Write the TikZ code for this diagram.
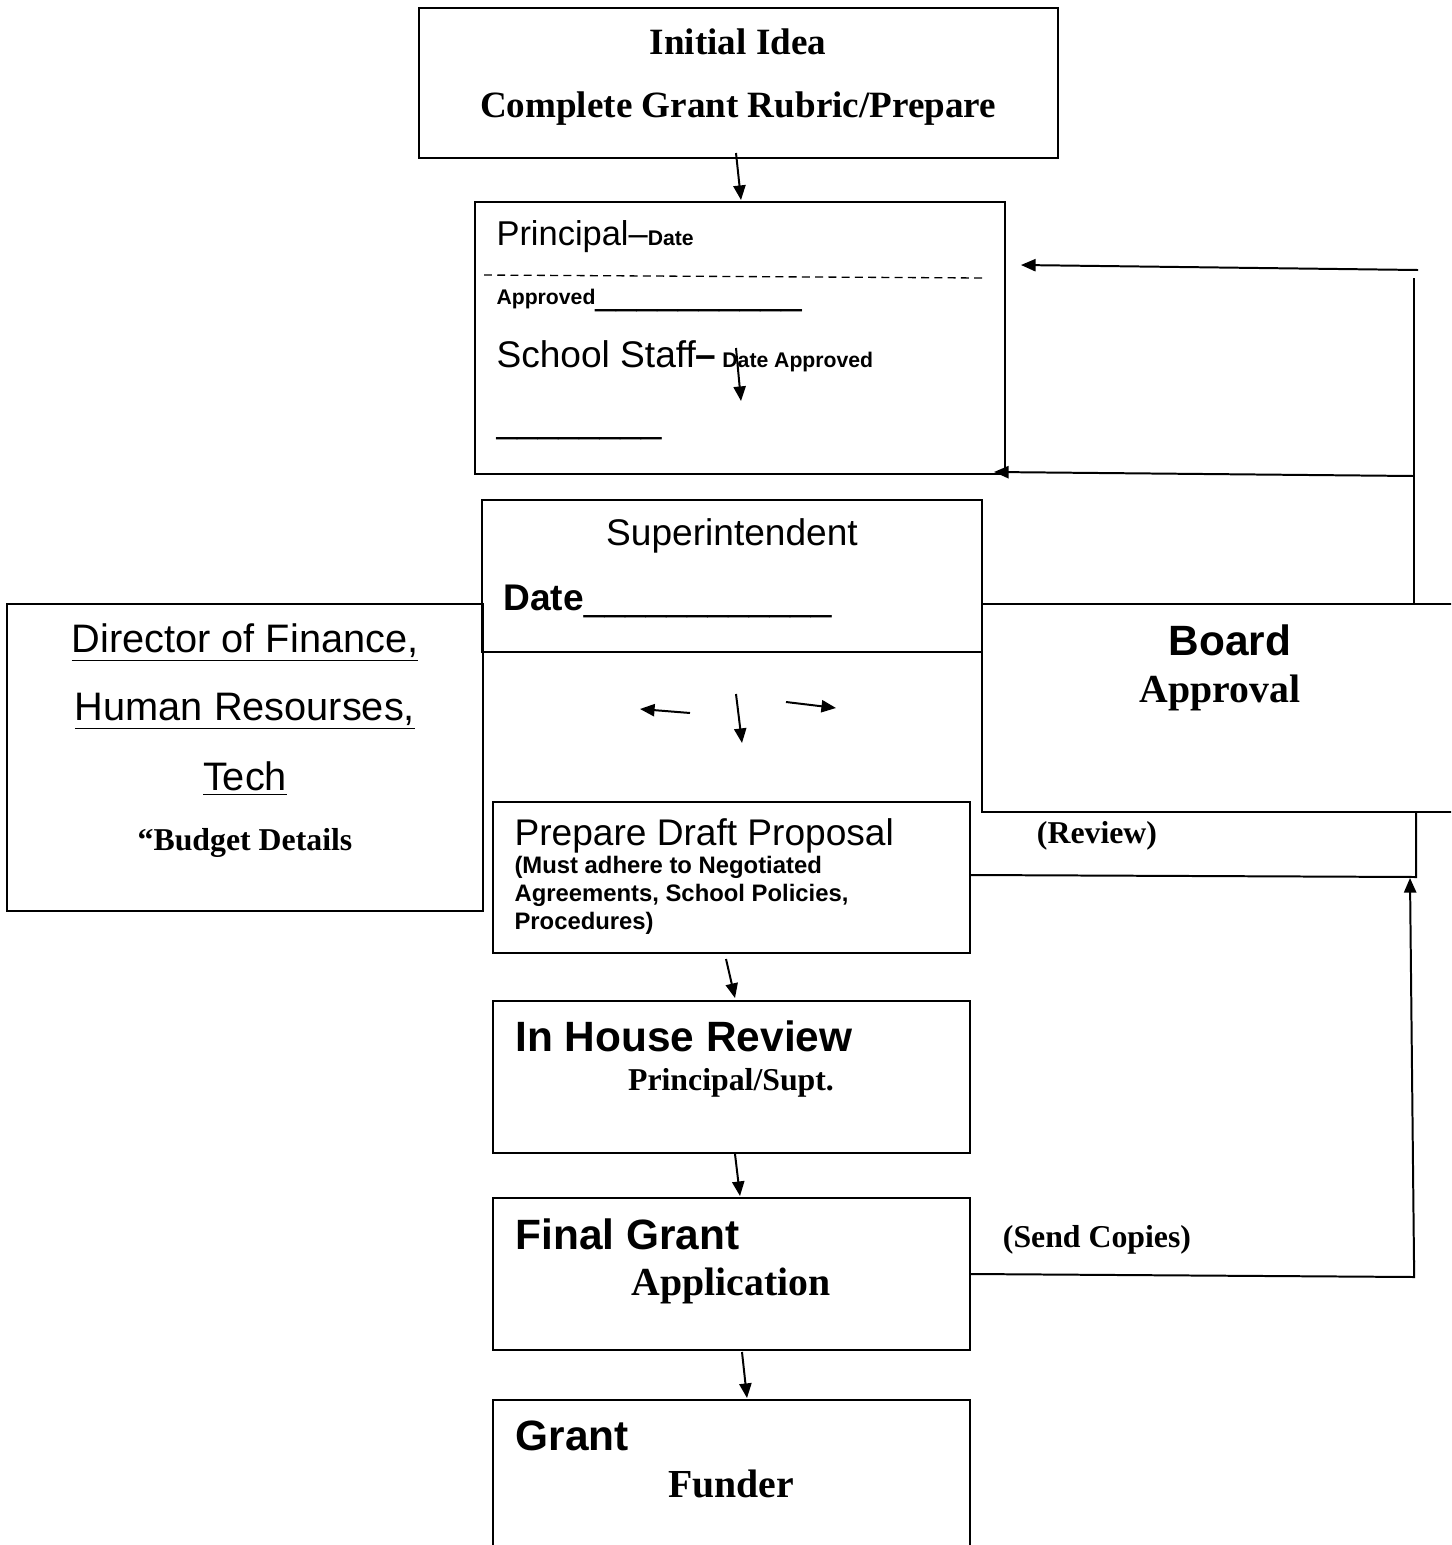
\documentclass[tikz,border=0pt]{standalone}
\usepackage{fontspec}
\setmainfont{Liberation Serif}
\setsansfont{Liberation Sans}
\usetikzlibrary{arrows.meta}
\newcommand\pxu{0.3774pt}
\begin{document}
\begin{tikzpicture}[x=\pxu, y=-\pxu,
		box/.style={draw, line width=0.75pt, inner sep=0pt},
		wire/.style={line width=0.75pt},
		arr/.style={wire, -{Triangle[length=5.5pt,width=4.6pt]}},
		txt/.style={inner sep=0pt, anchor=base},
		txtw/.style={inner sep=0pt, anchor=base west},
		sans/.style={font=\fontsize{#1}{#1}\selectfont\sffamily},
		sansb/.style={font=\fontsize{#1}{#1}\selectfont\sffamily\bfseries},
		serifb/.style={font=\fontsize{#1}{#1}\selectfont\rmfamily\bfseries}]
		\clip (0,0) rectangle (1451,1545);
		\node[box, minimum width=639*\pxu, minimum height=150*\pxu] (initial) at (738.5,83) {};
		\node[box, minimum width=530*\pxu, minimum height=272*\pxu] (principal) at (740,338) {};
		\node[box, minimum width=500*\pxu, minimum height=152*\pxu] (super) at (732,576) {};
		\node[box, minimum width=476*\pxu, minimum height=307*\pxu] (director) at (245,757.5) {};
		\node[box, minimum width=488*\pxu, minimum height=208*\pxu] (board) at (1226,708) {};
		\node[box, minimum width=477*\pxu, minimum height=151*\pxu] (draft) at (731.5,877.5) {};
		\node[box, minimum width=477*\pxu, minimum height=152*\pxu] (review) at (731.5,1077) {};
		\node[box, minimum width=477*\pxu, minimum height=152*\pxu] (final) at (731.5,1274) {};
		\node[box, minimum width=477*\pxu, minimum height=160*\pxu] (funder) at (731.5,1480) {};

		\node[txt, serifb=14] (idea) at (738,54) {Initial Idea};
		\node[txt, serifb=14] (rubric) at (738,117) {Complete Grant Rubric/Prepare};

		\node[txtw, sans=13] (prin) at (496,245) {Principal--{\fontsize{8}{8}\selectfont\bfseries Date}};
		\draw[line width=0.5pt, dash pattern=on 3pt off 2pt] (484,275) -- (982,278);
		\node[txtw, sansb=8] (appr) at (496,304) {Approved{\fontsize{14}{14}\selectfont\mdseries\_\_\_\_\_\_\_\_\_\_}};
		\node[txtw, sans=14] (staff) at (496,367) {School Staff{\bfseries--}{\fontsize{8}{8}\selectfont\bfseries\ Date Approved}};
		\node[txtw, sans=14] (blank) at (496,432) {\_\_\_\_\_\_\_\_};

		\node[txt, sans=14] (suptitle) at (732,545) {Superintendent};
		\node[txtw, sansb=14] (supdate) at (503,610) {Date{\mdseries\_\_\_\_\_\_\_\_\_\_\_\_}};

		\node[txt, sans=15] (dirA) at (245,652) {\underline{Director of Finance,}};
		\node[txt, sans=15] (dirB) at (245,720) {\underline{Human Resourses,}};
		\node[txt, sans=15] (dirC) at (245,790) {\underline{Tech}};
		\node[txt, serifb=12] (budget) at (245,850) {“Budget Details};

		\node[txt, sansb=16] (boardA) at (1230,655) {Board};
		\node[txt, serifb=15] (boardB) at (1220,702) {Approval};

		\node[txtw, sans=14] (draftA) at (514,845) {Prepare Draft Proposal};
		\node[txtw, sansb=9] (draftB) at (514,873) {(Must adhere to Negotiated};
		\node[txtw, sansb=9] (draftC) at (514,901) {Agreements, School Policies,};
		\node[txtw, sansb=9] (draftD) at (514,929) {Procedures)};

		\node[txtw, sansb=16] (revA) at (515,1051) {In House Review};
		\node[txt, serifb=12] (revB) at (731,1090) {Principal/Supt.};

		\node[txtw, sansb=16] (finA) at (515,1249) {Final Grant};
		\node[txt, serifb=15] (finB) at (731,1295) {Application};

		\node[txtw, sansb=16] (funA) at (515,1450) {Grant};
		\node[txt, serifb=15] (funB) at (731,1497) {Funder};

		\node[txt, serifb=12] (revlabel) at (1097,843) {(Review)};
		\node[txt, serifb=12] (sendlabel) at (1097,1247) {(Send Copies)};

		\draw[arr] ([shift={(-2.5,-6)}]initial.south) -- ([shift={(1,-1)}]principal.north);
		\draw[arr] ([shift={(-4,10)}]principal.center) -- ([shift={(1,63)}]principal.center);
		\draw[arr] ([shift={(-42,60)}]super.south) -- ([shift={(-92,56)}]super.south);
		\draw[arr] ([shift={(4,41)}]super.south) -- ([shift={(10,90)}]super.south);
		\draw[arr] ([shift={(54,49)}]super.south) -- ([shift={(104,55)}]super.south);
		\draw[arr] ([shift={(-5.5,5)}]draft.south) -- ([shift={(3.5,-2)}]review.north);
		\draw[arr] ([shift={(3.5,0)}]review.south) -- ([shift={(8.5,-1)}]final.north);
		\draw[arr] ([shift={(10.5,1)}]final.south) -- ([shift={(15.5,-1)}]funder.north);

		\coordinate (rail) at (1414,278);
		\coordinate (railtop) at (1418,270);
		\coordinate (railbot) at (1414,476);
		\draw[wire] (rail) -- (rail |- board.north);
		\draw[arr] (railtop) -- ([shift={(15,-73)}]principal.east);
		\draw[arr] (railbot) -- ([shift={(-12,-3)}]principal.south east);

		\coordinate (revcorner) at (1416,877);
		\coordinate (sendcorner) at (1414,1277);
		\coordinate (sendtip) at (1410,878);
		\draw[wire] ([shift={(0,-2.5)}]draft.east) -- (revcorner) -- (revcorner |- board.south);
		\draw[wire] (final.east) -- (sendcorner) -- (sendcorner |- 0,1260);
		\draw[arr] (sendcorner |- 0,1262) -- (sendtip);
\end{tikzpicture}
\end{document}
